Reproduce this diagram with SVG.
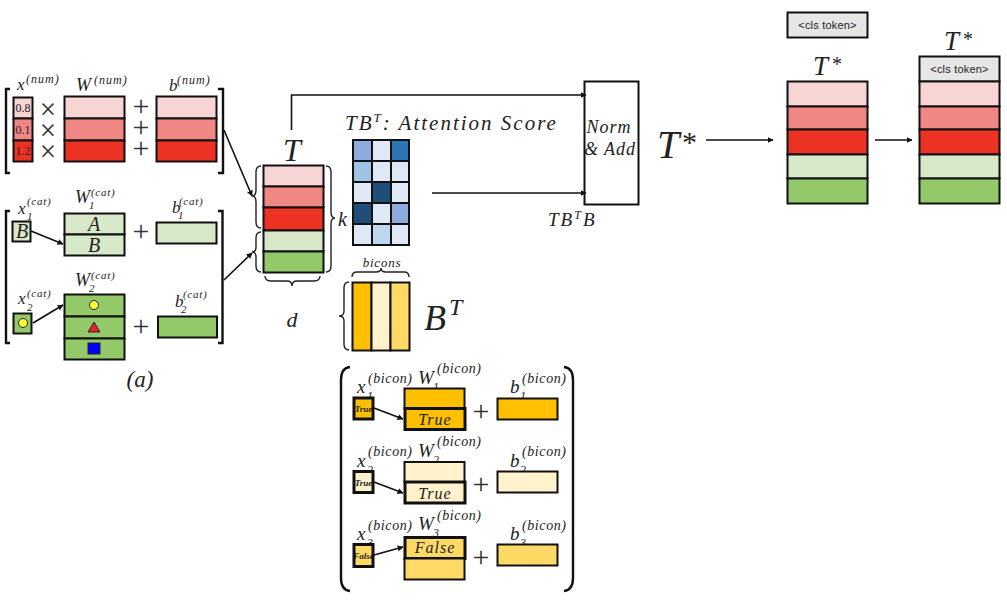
<svg xmlns="http://www.w3.org/2000/svg" width="1007" height="603" viewBox="0 0 1007 603">
<defs>
<marker id="ah" viewBox="0 0 10 10" refX="9" refY="5" markerWidth="6" markerHeight="6" orient="auto" markerUnits="userSpaceOnUse"><path d="M0 0L10 5L0 10z" fill="#111"/></marker>
</defs>
<style>
text{font-family:"Liberation Serif","Times New Roman",serif;fill:#222}
.m{font-style:italic}
.c{text-anchor:middle}
.cell{stroke:#111;stroke-width:2}
.thick{stroke:#111;stroke-width:3}
.grid{stroke:#111;stroke-width:2}
.brk{fill:none;stroke:#111;stroke-width:2.4}
.brc{fill:none;stroke:#222;stroke-width:1.4}
.conn{fill:none;stroke:#111;stroke-width:1.6;marker-end:url(#ah)}
.r1{fill:#f8d5d5}.r2{fill:#f08784}.r3{fill:#ec3323}.g1{fill:#d8e9c9}.g2{fill:#94c96a}
.y1{fill:#ffc000}.y2{fill:#fff2cc}.y3{fill:#ffd966}.gr{fill:#e7e6e6}
.h0{fill:#dee9f5}.h1{fill:#8faadc}.h2{fill:#2e75b6}.h3{fill:#9dc3e6}.h4{fill:#1f4e79}.h5{fill:#bdd7ee}
.s{font-size:11px;letter-spacing:.7px;font-style:italic}
.sn{font-size:12px;letter-spacing:1px;font-style:italic}
.b{font-size:14px;font-style:italic;letter-spacing:.6px}
.v{font-size:17px;font-style:italic}
.vw{font-size:18px;font-style:italic}
.vb{font-size:19px;font-style:italic}
.sub{font-size:12px;font-style:italic}
.sc{font-size:11px;font-style:italic}
.op{font-size:30px;text-anchor:middle;fill:#333}
.x{font-size:29px;text-anchor:middle;fill:#333}
.cls{font-family:"Liberation Sans",Arial,sans-serif;font-size:11px;letter-spacing:.2px;text-anchor:middle;fill:#222}
.t8{font-size:9px;font-style:italic;font-weight:bold;text-anchor:middle}
.t15{font-size:18px;font-style:italic;text-anchor:middle;letter-spacing:1px}
.t16{font-size:16px;font-style:italic;text-anchor:middle;letter-spacing:1px}
</style>

<g id="num-labels">
<text class="v" x="17" y="90">x</text><text class="sn" x="26" y="83">(num)</text>
<text class="vw" x="76" y="91">W</text><text class="sn" x="94" y="84">(num)</text>
<text class="v" x="169" y="91">b</text><text class="sn" x="177" y="84">(num)</text>
</g>
<g id="x-num">
<rect class="cell r1" x="13.500" y="97.500" width="19" height="21"/><rect class="cell r2" x="13.500" y="118.500" width="19" height="22"/><rect class="cell r3" x="13.500" y="140.500" width="19" height="21"/>
<text class="c" x="23" y="112" font-size="12">0.8</text><text class="c" x="23" y="134" font-size="12">0.1</text><text class="c" x="23" y="155" font-size="12">1.2</text>
</g>
<g id="w-num">
<rect class="cell r1" x="64.500" y="96.500" width="60" height="22"/><rect class="cell r2" x="64.500" y="118.500" width="60" height="22"/><rect class="cell r3" x="64.500" y="140.500" width="60" height="21"/>
</g>
<g id="b-num">
<rect class="cell r1" x="156.500" y="96.500" width="60" height="22"/><rect class="cell r2" x="156.500" y="118.500" width="60" height="22"/><rect class="cell r3" x="156.500" y="140.500" width="60" height="21"/>
</g>
<g id="num-ops">
<text class="x" x="48" y="119">×</text><text class="x" x="48" y="140">×</text><text class="x" x="48" y="161">×</text>
<text class="op" x="141" y="116">+</text><text class="op" x="141" y="137">+</text><text class="op" x="141" y="158">+</text>
</g>
<g id="num-brackets">
<path class="brk" d="M10 89H6V173H10"/><path class="brk" d="M218 89H223V173H218"/>
</g>

<g id="cat-labels">
<text class="v" x="18" y="214">x</text><text class="sc" x="27" y="220">1</text><text class="s" x="27" y="205">(cat)</text>
<text class="vw" x="75" y="203">W</text><text class="sc" x="89" y="209">1</text><text class="s" x="91" y="196">(cat)</text>
<text class="v" x="172" y="213">b</text><text class="sc" x="178" y="219" style="fill:#600">1</text><text class="s" x="179" y="205">(cat)</text>
<text class="v" x="18" y="304">x</text><text class="sc" x="27" y="311">2</text><text class="s" x="27" y="297">(cat)</text>
<text class="vw" x="75" y="286">W</text><text class="sc" x="89" y="292">2</text><text class="s" x="91" y="279">(cat)</text>
<text class="v" x="175" y="307">b</text><text class="sc" x="181" y="313">2</text><text class="s" x="183" y="298">(cat)</text>
</g>
<g id="x-cat-1"><rect class="cell g1" x="12.500" y="221.500" width="18" height="20"/><text class="m c" x="22" y="238" font-size="20">B</text></g>
<g id="w-cat-1">
<rect class="cell g1" x="64.500" y="213.500" width="60" height="21"/><rect class="cell g1" x="64.500" y="234.500" width="60" height="21"/>
<text class="m c" x="94" y="231" font-size="20">A</text><text class="m c" x="94" y="252" font-size="20">B</text>
</g>
<g id="b-cat-1"><rect class="cell g1" x="156.500" y="222.500" width="60" height="21"/></g>
<g id="x-cat-2"><rect class="cell g2" x="13.500" y="313.500" width="18" height="20"/><circle cx="23" cy="323" r="4.500" fill="#ffff33" stroke="#222"/></g>
<g id="w-cat-2">
<rect class="cell g2" x="64.500" y="294.500" width="60" height="22"/><rect class="cell g2" x="64.500" y="316.500" width="60" height="22"/><rect class="cell g2" x="64.500" y="338.500" width="60" height="21"/>
<circle cx="94" cy="305" r="4.500" fill="#ffff33" stroke="#222"/>
<path d="M94 322L100 332H88z" fill="#e8202a" stroke="#222"/>
<rect x="88" y="343" width="12" height="11" fill="#0000ff" stroke="#222"/>
</g>
<g id="b-cat-2"><rect class="cell g2" x="158" y="316.500" width="59" height="21"/></g>
<g id="cat-ops"><text class="op" x="141" y="241">+</text><text class="op" x="141" y="336">+</text></g>
<g id="cat-brackets">
<path class="brk" d="M10 211H6V343H10"/><path class="brk" d="M218 211H222.500V343H218"/>
</g>
<text id="label-a" class="m c" x="140" y="387" font-size="23">(a)</text>

<g id="T-stack">
<text class="m c" x="292" y="161" font-size="32">T</text>
<rect class="cell r1" x="263.500" y="165.500" width="60" height="21"/><rect class="cell r2" x="263.500" y="186.500" width="60" height="21"/><rect class="cell r3" x="263.500" y="207.500" width="60" height="23"/><rect class="cell g1" x="263.500" y="230.500" width="60" height="21"/><rect class="cell g2" x="263.500" y="251.500" width="60" height="21"/>
<path class="brc" d="M261 166Q256 166 256 172V190Q256 196 252 196Q256 196 256 202V222Q256 228 261 228"/>
<path class="brc" d="M261 232Q256 232 256 238V247Q256 252 252 252Q256 252 256 257V266Q256 272 261 272"/>
<path class="brc" d="M326 166Q331 166 331 172V212Q331 218 335 218Q331 218 331 224V266Q331 272 326 272"/>
<path class="brc" d="M265 276Q265 281 271 281H287Q292 281 292 286Q292 281 297 281H314Q320 281 320 276"/>
<text class="m c" x="292" y="327" font-size="22">d</text>
<text class="m" x="338" y="226" font-size="20">k</text>
</g>

<g id="attention">
<text class="m" x="345" y="130" font-size="21" letter-spacing="2">TB<tspan dy="-8" font-size="13">T</tspan><tspan dy="8">: Attention Score</tspan></text>
<g class="grid">
<rect class="h1" x="353" y="140" width="19" height="21"/><rect class="h0" x="372" y="140" width="19" height="21"/><rect class="h2" x="391" y="140" width="18" height="21"/>
<rect class="h3" x="353" y="161" width="19" height="21"/><rect class="h0" x="372" y="161" width="19" height="21"/><rect class="h0" x="391" y="161" width="18" height="21"/>
<rect class="h0" x="353" y="182" width="19" height="21"/><rect class="h4" x="372" y="182" width="19" height="21"/><rect class="h0" x="391" y="182" width="18" height="21"/>
<rect class="h4" x="353" y="203" width="19" height="21"/><rect class="h0" x="372" y="203" width="19" height="21"/><rect class="h1" x="391" y="203" width="18" height="21"/>
<rect class="h0" x="353" y="224" width="19" height="21"/><rect class="h5" x="372" y="224" width="19" height="21"/><rect class="h0" x="391" y="224" width="18" height="21"/>
</g>
</g>

<g id="BT">
<text class="m c" x="382" y="267" font-size="13" letter-spacing=".8">bicons</text>
<path class="brc" d="M352 277Q352 272 357 272H376Q381 272 381 268Q381 272 386 272H404Q409 272 409 277"/>
<path class="brc" d="M349 282Q344 282 344 288V311Q344 316 339 316Q344 316 344 321V344Q344 350 349 350"/>
<g class="grid"><rect class="y1" x="352.500" y="282.500" width="19" height="68"/><rect class="y2" x="371.500" y="282.500" width="19" height="68"/><rect class="y3" x="390.500" y="282.500" width="19" height="68"/></g>
<text class="m" x="424" y="330" font-size="36">B<tspan x="449" y="315" font-size="24">T</tspan></text>
</g>

<g id="norm-add">
<rect x="584.500" y="81.500" width="54" height="123" fill="#fff" stroke="#111" stroke-width="2"/>
<text class="t15" x="609" y="133">Norm</text><text class="t15" x="610" y="155">&amp; Add</text>
</g>
<text id="label-tbtb" class="m" x="548" y="226" font-size="19" letter-spacing="2">TB<tspan dy="-7" font-size="12">T</tspan><tspan dy="7">B</tspan></text>

<text id="label-tstar" class="m" x="657" y="158" font-size="40">T<tspan x="682" y="152" font-style="normal" style="font-size:30px">*</tspan></text>

<g id="T-star-1">
<text class="m" x="813" y="75" font-size="27">T<tspan x="832" y="71" font-size="20" font-style="normal">*</tspan></text>
<rect class="cell r1" x="787.500" y="81.500" width="80" height="25"/><rect class="cell r2" x="787.500" y="106.500" width="80" height="23"/><rect class="cell r3" x="787.500" y="129.500" width="80" height="25"/><rect class="cell g1" x="787.500" y="154.500" width="80" height="24"/><rect class="cell g2" x="787.500" y="178.500" width="80" height="25"/>
</g>
<g id="cls-token"><rect class="cell gr" x="787.500" y="12.500" width="80" height="25"/><text class="cls" x="827.500" y="29">&lt;cls token&gt;</text></g>
<g id="T-star-2">
<text class="m" x="944" y="50" font-size="27">T<tspan x="963" y="46" font-size="20" font-style="normal">*</tspan></text>
<rect class="cell gr" x="919.500" y="56.500" width="80" height="25"/><text class="cls" x="959.500" y="73">&lt;cls token&gt;</text>
<rect class="cell r1" x="919.500" y="81.500" width="80" height="25"/><rect class="cell r2" x="919.500" y="106.500" width="80" height="23"/><rect class="cell r3" x="919.500" y="129.500" width="80" height="25"/><rect class="cell g1" x="919.500" y="154.500" width="80" height="24"/><rect class="cell g2" x="919.500" y="178.500" width="80" height="25"/>
</g>

<g id="bicon-brackets">
<path class="brk" d="M350 367Q341 368 341 380V578Q341 590 350 591"/>
<path class="brk" d="M564 367Q573 368 573 380V578Q573 590 564 591"/>
</g>
<g id="bicon-labels">
<text class="vb" x="357" y="393">x</text><text class="sub" x="367" y="400">1</text><text class="b" x="368" y="383">(bicon)</text>
<text class="vb" x="418" y="384">W</text><text class="sub" x="433" y="391">1</text><text class="b" x="437" y="373">(bicon)</text>
<text class="vb" x="510" y="393">b</text><text class="sub" x="520" y="400">1</text><text class="b" x="522" y="383">(bicon)</text>
<text class="vb" x="357" y="467">x</text><text class="sub" x="367" y="474">2</text><text class="b" x="368" y="456">(bicon)</text>
<text class="vb" x="418" y="457">W</text><text class="sub" x="433" y="464">2</text><text class="b" x="437" y="446">(bicon)</text>
<text class="vb" x="510" y="467">b</text><text class="sub" x="520" y="474">2</text><text class="b" x="522" y="456">(bicon)</text>
<text class="vb" x="357" y="540">x</text><text class="sub" x="367" y="547">3</text><text class="b" x="368" y="530">(bicon)</text>
<text class="vb" x="418" y="530">W</text><text class="sub" x="433" y="537">3</text><text class="b" x="437" y="520">(bicon)</text>
<text class="vb" x="510" y="540">b</text><text class="sub" x="520" y="547">3</text><text class="b" x="522" y="530">(bicon)</text>
</g>
<g id="bicon-1">
<rect class="y1" x="354" y="398" width="19" height="21"/><text class="t8" x="363.500" y="412">True</text><rect class="thick" fill="none" x="354" y="398" width="19" height="21"/>
<rect class="cell y1" x="404.500" y="388.500" width="60" height="20"/><rect class="thick y1" x="405" y="408.500" width="60" height="21"/>
<text class="t16" x="435" y="425">True</text>
<rect class="cell y1" x="497.500" y="398.500" width="60" height="21"/>
<text class="op" x="481" y="421">+</text>
</g>
<g id="bicon-2">
<rect class="y2" x="354" y="471.500" width="19" height="21"/><text class="t8" x="363.500" y="485.500">True</text><rect class="thick" fill="none" x="354" y="471.500" width="19" height="21"/>
<rect class="cell y2" x="404.500" y="462" width="60" height="20"/><rect class="thick y2" x="405" y="482" width="60" height="21"/>
<text class="t16" x="435" y="498.500">True</text>
<rect class="cell y2" x="497.500" y="471.500" width="60" height="21"/>
<text class="op" x="481" y="494">+</text>
</g>
<g id="bicon-3">
<rect class="y3" x="354" y="544.500" width="19" height="22"/><text class="t8" x="363.500" y="558.500">False</text><rect class="thick" fill="none" x="354" y="544.500" width="19" height="22"/>
<rect class="thick y3" x="405" y="537.500" width="60" height="21"/><rect class="cell y3" x="404.500" y="558.500" width="60" height="21"/>
<text class="t16" x="435" y="553">False</text>
<rect class="cell y3" x="497.500" y="544.500" width="60" height="21"/>
<text class="op" x="481" y="567">+</text>
</g>

<g id="connectors">
<path class="conn" d="M224 130L252 196"/>
<path class="conn" d="M224 280L252 253"/>
<path class="conn" d="M31 231L63 244"/>
<path class="conn" d="M33 323L63 305"/>
<path class="conn" d="M374 408L403 419"/>
<path class="conn" d="M374 482L403 493"/>
<path class="conn" d="M374 555L403 547"/>
<path class="conn" d="M291.500 130V95H586"/>
<path class="conn" d="M432 193H586"/>
<path class="conn" d="M706 140H773"/>
<path class="conn" d="M875 140H912"/>
</g>
</svg>
